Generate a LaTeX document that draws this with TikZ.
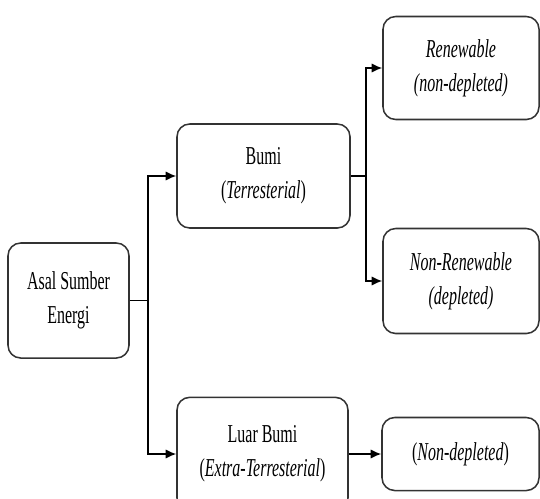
\documentclass[tikz,border=0pt]{standalone}
\usepackage{fontspec}
\setmainfont{Liberation Serif}
\usepackage{graphicx}
\usetikzlibrary{arrows.meta}
\newcommand{\narrowtxt}[1]{\scalebox{0.62}[1]{#1}}
\begin{document}
\begin{tikzpicture}[x=0.03cm,y=-0.03cm,
	box/.style={draw=black!80,line width=1.3pt,rounded corners=0.38cm,align=center,inner sep=0pt,font=\fontsize{22}{29}\selectfont},
	arr/.style={-{Latex[length=9pt,width=8pt]},line width=1.3pt}]
	\useasboundingbox (0,0) rectangle (540,498);
	\node[box,minimum width=3.63cm,minimum height=3.45cm] (asal) at (68.5,300.5) {\narrowtxt{Asal Sumber}\\\narrowtxt{Energi}};
	\node[box,minimum width=5.19cm,minimum height=3.12cm] (bumi) at (263.5,176) {\narrowtxt{Bumi}\\\narrowtxt{(\textit{Terresterial})}};
	\node[box,minimum width=5.13cm,minimum height=3.4cm] (luar) at (262.5,454) {\narrowtxt{Luar Bumi}\\\narrowtxt{(\textit{Extra-Terresterial})}};
	\node[box,minimum width=4.68cm,minimum height=3.09cm] (renew) at (461,68) {\narrowtxt{\textit{Renewable}}\\\narrowtxt{\textit{(non-depleted)}}};
	\node[box,minimum width=4.68cm,minimum height=3.15cm] (nonrenew) at (461,281) {\narrowtxt{\textit{Non-Renewable}}\\\narrowtxt{\textit{(depleted)}}};
	\node[box,minimum width=4.71cm,minimum height=2.19cm] (nondep) at (460.5,454) {\narrowtxt{(\textit{Non-depleted})}};
	% cabang dari asal sumber
	\draw[line width=1.3pt] (asal.east) -- ++(18,0) coordinate (split);
	\draw[arr] (split) |- (bumi.west);
	\draw[arr] (split) |- (luar.west);
	% cabang dari bumi
	\draw[line width=1.3pt] (bumi.east) -- ++(15,0) coordinate (fork);
	\draw[arr] (fork) |- (renew.west);
	\draw[arr] (fork) |- (nonrenew.west);
	\draw[arr] (luar.east) -- (nondep.west);
\end{tikzpicture}
\end{document}
